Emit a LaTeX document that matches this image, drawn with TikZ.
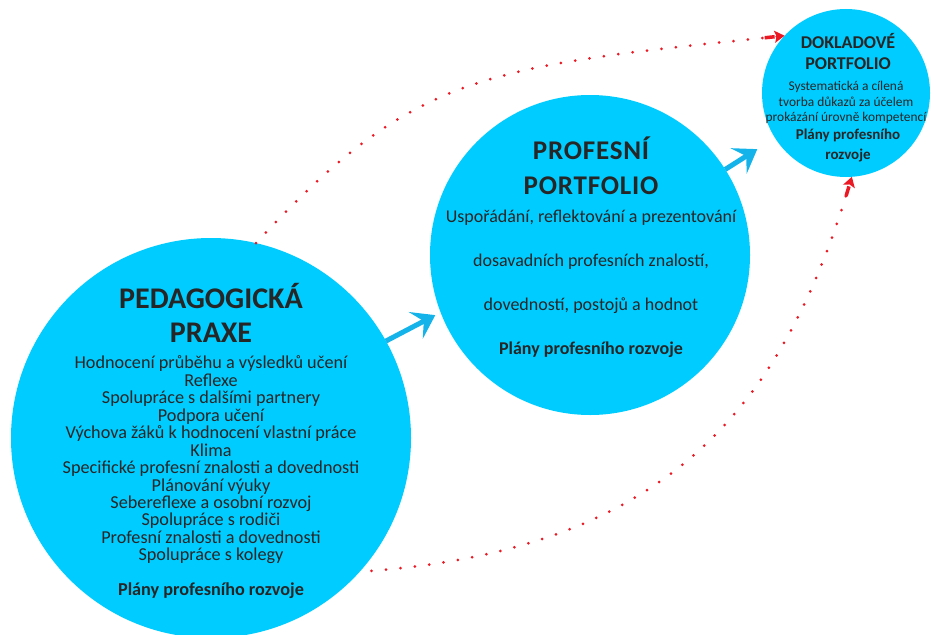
\documentclass[tikz,border=0pt]{standalone}
\usepackage{fontspec}
\setmainfont{Carlito}
\usetikzlibrary{arrows.meta}
\definecolor{circ}{RGB}{0,204,255}
\definecolor{arr}{RGB}{20,180,235}
\definecolor{reddot}{RGB}{235,25,35}
\definecolor{txt}{RGB}{38,38,38}
\begin{document}
\begin{tikzpicture}[x=1pt,y=-1pt,
  bubble/.style={circle,fill=circ,draw=none,inner sep=0pt,outer sep=0pt},
  label/.style={text=txt,align=center,inner sep=0pt},
  bluearrow/.style={draw=arr,line width=5pt,-{Stealth[length=22pt,width=30pt,inset=9pt]}},
  dotted red/.style={draw=reddot,line width=3pt,line cap=round,dash pattern=on 0pt off 14.5pt,
     -{Rectangle[length=10pt,width=2.5pt]Stealth[length=10pt,width=12pt,inset=2pt]}}
]
\useasboundingbox (0,0) rectangle (933,634);

% circles
\node[bubble,minimum size=400pt] (ped) at (211,438) {};
\node[bubble,minimum size=320pt] (pro) at (590,255) {};
\node[bubble,minimum size=168pt] (dok) at (846,93) {};

% red dotted connectors
\draw[dotted red] (ped.77) .. controls (414,72) and (484,67) .. (dok.137);
\draw[dotted red,shorten <=12pt] (ped.-42) .. controls (660,548) and (779.5,417) .. (dok.-86);

% blue arrows
\draw[bluearrow,shorten >=6pt] (ped.29) -- (pro.201);
\draw[bluearrow,shorten >=21pt] (pro) -- (dok);

% texts: big circle
\node[label,font=\fontsize{30}{34}\selectfont\bfseries] (pedT) at (211,313) {PEDAGOGICKÁ\\PRAXE};
\node[label,font=\fontsize{18.2}{17.45}\selectfont] (pedL) at (211,460)
 {Hodnocení průběhu a výsledků učení\\Reflexe\\Spolupráce s dalšími partnery\\Podpora učení\\
  Výchova žáků k hodnocení vlastní práce\\Klima\\Specifické profesní znalosti a dovednosti\\
  Plánování výuky\\Sebereflexe a osobní rozvoj\\Spolupráce s rodiči\\Profesní znalosti a dovednosti\\
  Spolupráce s kolegy};
\node[label,font=\fontsize{18.2}{20}\selectfont\bfseries] (pedP) at (211,591) {Plány profesního rozvoje};

% texts: middle circle
\node[label,font=\fontsize{27}{35}\selectfont\bfseries\addfontfeatures{LetterSpace=3}] (proT) at (591,165.5) {PROFESNÍ\\PORTFOLIO};
\node[label,font=\fontsize{18}{44}\selectfont] (proL) at (591,284)
 {Uspořádání, reflektování a prezentování\\dosavadních profesních znalostí,\\dovedností, postojů a hodnot\\\textbf{Plány profesního rozvoje}};

% texts: small circle
\node[label,font=\fontsize{18}{21}\selectfont\bfseries] (dokT) at (848,52) {DOKLADOVÉ\\PORTFOLIO};
\node[label,font=\fontsize{13.4}{15.5}\selectfont] (dokL) at (846,102.5)
 {Systematická a cílená\\tvorba důkazů za účelem\\prokázání úrovně kompetencí};
\node[label,font=\fontsize{15}{20}\selectfont\bfseries] (dokP) at (848,146) {Plány profesního\\rozvoje};
\end{tikzpicture}
\end{document}
